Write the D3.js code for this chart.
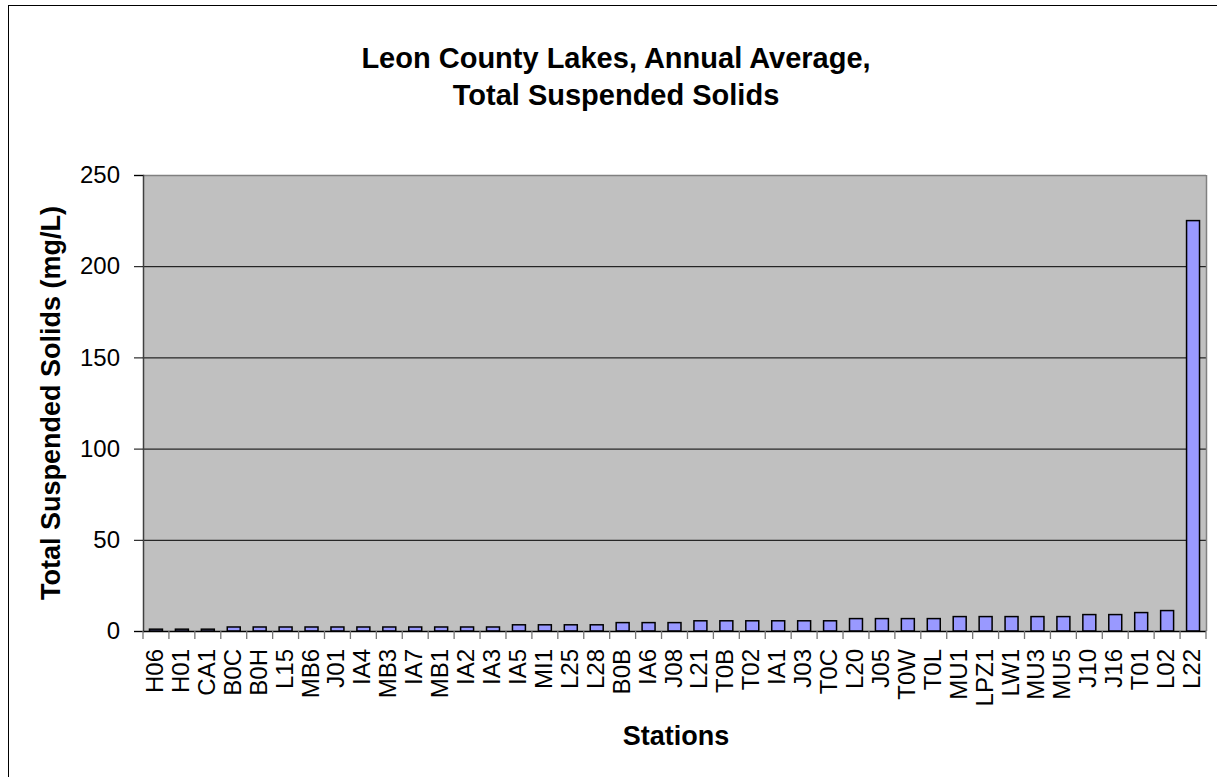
<!DOCTYPE html>
<html><head><meta charset="utf-8">
<script src="https://cdn.jsdelivr.net/npm/d3@7"></script>
<style>body{margin:0;background:#fff}svg{display:block}text{font-family:Arial,"Liberation Sans",sans-serif}</style>
</head><body><svg id="c" width="1217" height="777"></svg>
<script>
const stations = ["H06","H01","CA1","B0C","B0H","L15","MB6","J01","IA4","MB3","IA7","MB1","IA2","IA3","IA5","MI1","L25","L28","B0B","IA6","J08","L21","T0B","T02","IA1","J03","T0C","L20","J05","T0W","T0L","MU1","LPZ1","LW1","MU3","MU5","J10","J16","T01","L02","L22"];
const tss = [1.0,1.0,1.0,2.2,2.2,2.2,2.2,2.2,2.2,2.2,2.2,2.2,2.2,2.2,3.4,3.4,3.4,3.4,4.6,4.6,4.6,5.6,5.6,5.6,5.6,5.6,5.6,6.8,6.8,6.8,6.8,7.9,7.9,7.9,7.9,7.9,9.0,9.0,10.1,11.2,225];
const yTicks = [0,50,100,150,200,250];
const titleLines = ["Leon County Lakes, Annual Average,","Total Suspended Solids"];

const FONT = "Arial, 'Liberation Sans', sans-serif";
const svg = d3.select("#c");
const L=143,R=1206,T=175,B=631;
// outer frame
svg.append("rect").attr("x",8.5).attr("y",5.5).attr("width",1217).attr("height",800).attr("fill","#fff").attr("stroke","#000").attr("stroke-width",1);

const x = d3.scaleBand().domain(stations).range([L,R]).paddingInner(0.5).paddingOuter(0.25);
const y = d3.scaleLinear().domain([0,250]).range([B,T]);

svg.append("rect").attr("x",L).attr("y",T).attr("width",R-L).attr("height",B-T).attr("fill","#C0C0C0");
// gridlines
svg.append("g").selectAll("line").data(yTicks.filter(d=>d>0&&d<250)).join("line")
  .attr("x1",L).attr("x2",R).attr("y1",d=>y(d)+0.5).attr("y2",d=>y(d)+0.5).attr("stroke","#000").attr("stroke-width",1);
// plot border top/right
svg.append("line").attr("x1",L).attr("x2",R).attr("y1",T+0.5).attr("y2",T+0.5).attr("stroke","#808080").attr("stroke-width",1.5);
svg.append("line").attr("x1",R+0.5).attr("x2",R+0.5).attr("y1",T).attr("y2",B).attr("stroke","#808080").attr("stroke-width",1.5);

// bars
svg.append("g").selectAll("rect").data(stations).join("rect")
  .attr("x",d=>x(d)).attr("width",x.bandwidth())
  .attr("y",(d,i)=>y(tss[i])).attr("height",(d,i)=>B-y(tss[i]))
  .attr("fill","#9999FF").attr("stroke","#000").attr("stroke-width",1.5);

// y axis
const ya = svg.append("g").attr("transform",`translate(${L},0)`).call(d3.axisLeft(y).tickValues(yTicks).tickSize(9).tickPadding(14));
ya.select(".domain").attr("stroke","#404040").attr("stroke-width",1.5);
ya.selectAll(".tick line").attr("stroke","#000");
ya.selectAll("text").attr("font-size","24px").attr("fill","#000").style("font-family",FONT);

// x axis
const xg = svg.append("g").attr("transform",`translate(0,${B})`);
xg.append("line").attr("x1",L).attr("x2",R).attr("y1",0.5).attr("y2",0.5).attr("stroke","#000").attr("stroke-width",1.5);
const bounds = d3.range(stations.length+1).map(i=>L+i*(R-L)/stations.length);
xg.selectAll("line.t").data(bounds).join("line").attr("class","t")
  .attr("x1",d=>d).attr("x2",d=>d).attr("y1",0).attr("y2",8).attr("stroke","#777").attr("stroke-width",1.3);
xg.selectAll("text").data(stations).join("text")
  .attr("transform",d=>`translate(${x(d)+x.bandwidth()/2+7},18) rotate(-90)`)
  .attr("text-anchor","end").attr("font-size","24px").attr("fill","#000").text(d=>d);

// titles
svg.append("g").selectAll("text").data(titleLines).join("text")
  .attr("x",616).attr("y",(d,i)=>68+i*37).attr("text-anchor","middle")
  .attr("font-size","29px").attr("font-weight","bold").text(d=>d);
svg.append("text").attr("transform","translate(60,403) rotate(-90)").attr("text-anchor","middle")
  .attr("font-size","27px").attr("font-weight","bold").text("Total Suspended Solids (mg/L)");
svg.append("text").attr("x",676).attr("y",745).attr("text-anchor","middle")
  .attr("font-size","27px").attr("font-weight","bold").text("Stations");
</script></body></html>
